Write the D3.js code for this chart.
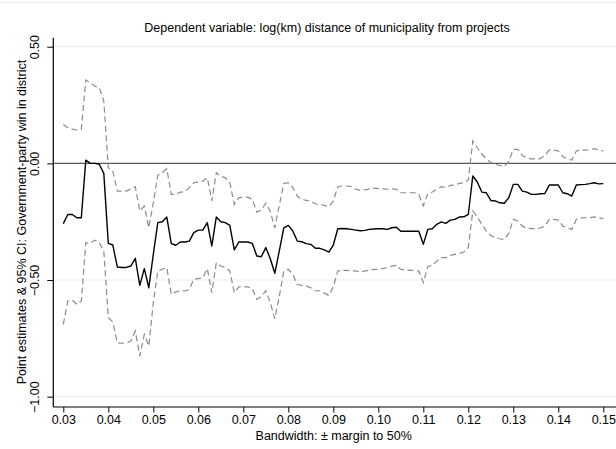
<!DOCTYPE html>
<html><head><meta charset="utf-8">
<script src="https://cdn.jsdelivr.net/npm/d3@7"></script>
<style>
html,body{margin:0;padding:0;background:#fff;}
svg{display:block;font-family:"Liberation Sans",Arial,sans-serif;}
</style></head>
<body><svg id="chart" width="616" height="449"></svg>
<script>
const bandwidth = [0.030,0.031,0.032,0.033,0.034,0.035,0.036,0.037,0.038,0.039,
0.040,0.041,0.042,0.043,0.044,0.045,0.046,0.047,0.048,0.049,
0.050,0.051,0.052,0.053,0.054,0.055,0.056,0.057,0.058,0.059,
0.060,0.061,0.062,0.063,0.064,0.065,0.066,0.067,0.068,0.069,
0.070,0.071,0.072,0.073,0.074,0.075,0.076,0.077,0.078,0.079,
0.080,0.081,0.082,0.083,0.084,0.085,0.086,0.087,0.088,0.089,
0.090,0.091,0.092,0.093,0.094,0.095,0.096,0.097,0.098,0.099,
0.100,0.101,0.102,0.103,0.104,0.105,0.106,0.107,0.108,0.109,
0.110,0.111,0.112,0.113,0.114,0.115,0.116,0.117,0.118,0.119,
0.120,0.121,0.122,0.123,0.124,0.125,0.126,0.127,0.128,0.129,
0.130,0.131,0.132,0.133,0.134,0.135,0.136,0.137,0.138,0.139,
0.140,0.141,0.142,0.143,0.144,0.145,0.146,0.147,0.148,0.149,0.150];

const estimate = [-0.258,-0.219,-0.219,-0.233,-0.233,0.014,0.000,0.000,-0.004,-0.043,
-0.343,-0.350,-0.444,-0.446,-0.446,-0.440,-0.407,-0.523,-0.451,-0.533,
-0.390,-0.254,-0.250,-0.230,-0.344,-0.351,-0.337,-0.337,-0.333,-0.297,
-0.286,-0.286,-0.254,-0.354,-0.230,-0.250,-0.254,-0.266,-0.371,-0.337,
-0.337,-0.337,-0.343,-0.397,-0.400,-0.361,-0.409,-0.471,-0.375,-0.276,
-0.266,-0.290,-0.333,-0.336,-0.344,-0.347,-0.364,-0.364,-0.371,-0.380,
-0.350,-0.280,-0.279,-0.280,-0.283,-0.286,-0.289,-0.287,-0.283,-0.281,
-0.280,-0.280,-0.283,-0.276,-0.274,-0.291,-0.291,-0.291,-0.291,-0.291,
-0.347,-0.283,-0.280,-0.261,-0.251,-0.257,-0.243,-0.240,-0.230,-0.229,
-0.219,-0.054,-0.080,-0.123,-0.126,-0.159,-0.161,-0.169,-0.171,-0.147,
-0.090,-0.090,-0.119,-0.123,-0.133,-0.133,-0.130,-0.129,-0.093,-0.093,
-0.093,-0.126,-0.130,-0.140,-0.093,-0.091,-0.090,-0.087,-0.083,-0.088,-0.087];

const ciUpper = [0.167,0.153,0.147,0.143,0.145,0.357,0.346,0.331,0.324,0.267,
-0.019,-0.033,-0.119,-0.119,-0.119,-0.110,-0.100,-0.204,-0.183,-0.276,
-0.169,-0.051,-0.040,-0.023,-0.133,-0.133,-0.123,-0.121,-0.104,-0.083,
-0.079,-0.076,-0.061,-0.161,-0.040,-0.057,-0.061,-0.083,-0.176,-0.147,
-0.145,-0.145,-0.154,-0.209,-0.200,-0.171,-0.206,-0.276,-0.180,-0.086,
-0.083,-0.104,-0.140,-0.154,-0.159,-0.161,-0.173,-0.176,-0.180,-0.186,
-0.161,-0.100,-0.097,-0.097,-0.100,-0.111,-0.116,-0.114,-0.109,-0.107,
-0.107,-0.109,-0.111,-0.109,-0.111,-0.126,-0.126,-0.126,-0.126,-0.133,
-0.182,-0.129,-0.123,-0.111,-0.100,-0.104,-0.094,-0.093,-0.086,-0.083,
-0.071,0.096,0.067,0.039,0.020,0.003,-0.004,-0.009,-0.014,0.010,
0.060,0.060,0.034,0.024,0.019,0.019,0.020,0.034,0.057,0.057,
0.053,0.029,0.019,0.014,0.053,0.057,0.057,0.059,0.063,0.057,0.053];

const ciLower = [-0.690,-0.590,-0.586,-0.604,-0.590,-0.340,-0.343,-0.329,-0.340,-0.376,
-0.661,-0.680,-0.769,-0.771,-0.771,-0.762,-0.719,-0.826,-0.733,-0.783,
-0.597,-0.461,-0.454,-0.446,-0.561,-0.551,-0.546,-0.547,-0.540,-0.497,
-0.494,-0.490,-0.451,-0.554,-0.426,-0.440,-0.446,-0.461,-0.554,-0.529,
-0.529,-0.529,-0.537,-0.583,-0.571,-0.546,-0.597,-0.666,-0.570,-0.461,
-0.454,-0.476,-0.519,-0.523,-0.526,-0.533,-0.546,-0.546,-0.556,-0.566,
-0.530,-0.461,-0.459,-0.459,-0.461,-0.461,-0.466,-0.461,-0.459,-0.454,
-0.454,-0.451,-0.447,-0.440,-0.437,-0.454,-0.457,-0.459,-0.459,-0.461,
-0.511,-0.443,-0.437,-0.419,-0.404,-0.404,-0.394,-0.390,-0.386,-0.380,
-0.361,-0.204,-0.229,-0.261,-0.290,-0.309,-0.319,-0.323,-0.326,-0.300,
-0.240,-0.247,-0.269,-0.277,-0.280,-0.280,-0.277,-0.269,-0.240,-0.240,
-0.243,-0.269,-0.276,-0.283,-0.240,-0.234,-0.233,-0.233,-0.229,-0.233,-0.237];

const xTicks = [0.03,0.04,0.05,0.06,0.07,0.08,0.09,0.10,0.11,0.12,0.13,0.14,0.15];
const yTicks = [-1.0,-0.5,0.0,0.5];
const titleText = "Dependent variable: log(km) distance of municipality from projects";
const xTitle = "Bandwidth: \u00B1 margin to 50%";
const yTitle = "Point estimates & 95% CI: Government-party win in district";

const svg = d3.select("#chart");
const W = 616, H = 449;
const plotLeft = 53.3, plotRight = 616, plotTop = 37.7, plotBottom = 407;

const x = d3.scaleLinear().domain([0.03, 0.15]).range([63.3, 603.3]);
const y = d3.scaleLinear().domain([-1.0, 0.5]).range([396.7, 46.7]);

svg.append("rect").attr("x",0).attr("y",0).attr("width",W).attr("height",H).attr("fill","#fff");
svg.append("line").attr("x1",0).attr("x2",W).attr("y1",2.5).attr("y2",2.5)
  .attr("stroke","#eaf0f2").attr("stroke-width",1);

// gridlines
svg.append("g").selectAll("line").data(yTicks.filter(d => d !== 0)).join("line")
  .attr("x1", plotLeft).attr("x2", plotRight)
  .attr("y1", d => y(d)).attr("y2", d => y(d))
  .attr("stroke", "#e6eef0").attr("stroke-width", 1);

// zero reference line
svg.append("line").attr("x1", plotLeft).attr("x2", plotRight)
  .attr("y1", y(0)).attr("y2", y(0))
  .attr("stroke", "#5a5a5a").attr("stroke-width", 1.4);

const pts = (arr) => bandwidth.map((b, i) => [b, arr[i]]);
const line = d3.line().x(d => x(d[0])).y(d => y(d[1]));

svg.append("path").datum(pts(ciUpper)).attr("d", line)
  .attr("fill","none").attr("stroke","#8c8c8c").attr("stroke-width",1.2)
  .attr("stroke-dasharray","6,3.5");
svg.append("path").datum(pts(ciLower)).attr("d", line)
  .attr("fill","none").attr("stroke","#8c8c8c").attr("stroke-width",1.2)
  .attr("stroke-dasharray","6,3.5");
svg.append("path").datum(pts(estimate)).attr("d", line)
  .attr("fill","none").attr("stroke","#000").attr("stroke-width",1.4)
  .attr("stroke-linejoin","round");

// x axis
const xAxis = d3.axisBottom(x).tickValues(xTicks).tickFormat(d3.format(".2f"))
  .tickSize(5.5).tickSizeOuter(0).tickPadding(3);
const gx = svg.append("g").attr("transform", `translate(0,${plotBottom})`).call(xAxis);
gx.select(".domain").attr("d", `M${plotLeft},0H${plotRight}`).attr("stroke","#000").attr("stroke-width",1.2);
gx.selectAll(".tick line").attr("stroke","#000").attr("stroke-width",1);
gx.selectAll(".tick text").attr("font-size","12.5px").attr("fill","#000")
  .attr("font-family","Liberation Sans, Arial, sans-serif");

// y axis
const yAxis = d3.axisLeft(y).tickValues(yTicks).tickFormat(d3.format(".2f"))
  .tickSize(6).tickSizeOuter(0);
const gy = svg.append("g").attr("transform", `translate(${plotLeft},0)`).call(yAxis);
gy.select(".domain").attr("d", `M0,${plotTop}V${plotBottom}`).attr("stroke","#000").attr("stroke-width",1.2);
gy.selectAll(".tick line").attr("stroke","#000").attr("stroke-width",1);
gy.selectAll(".tick text")
  .attr("x", null).attr("dy", null)
  .attr("transform", "translate(-14,0) rotate(-90)")
  .attr("text-anchor","middle")
  .attr("font-size","12.5px").attr("fill","#000")
  .attr("font-family","Liberation Sans, Arial, sans-serif");

// titles
svg.append("text").attr("x", 327).attr("y", 31.5).attr("text-anchor","middle")
  .attr("font-size","12.5px").attr("fill","#000").text(titleText);
svg.append("text").attr("x", 333.7).attr("y", 440).attr("text-anchor","middle")
  .attr("font-size","12.5px").attr("fill","#000").text(xTitle);
svg.append("text").attr("transform", `translate(25.8,222) rotate(-90)`).attr("text-anchor","middle")
  .attr("font-size","12.5px").attr("fill","#000").text(yTitle);
</script></body></html>
